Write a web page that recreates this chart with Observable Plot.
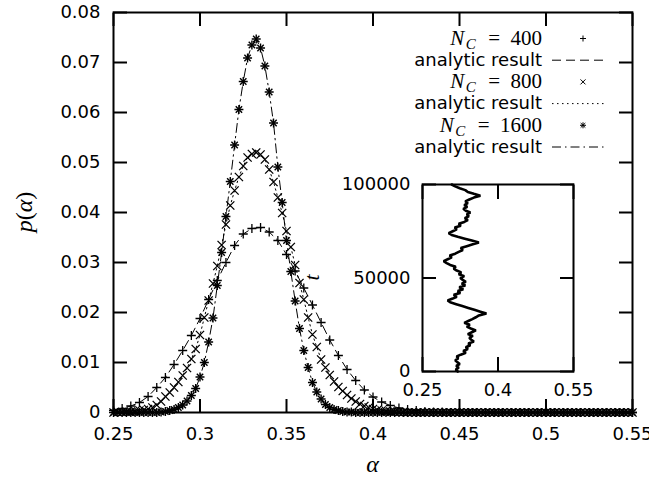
<!DOCTYPE html>
<html><head><meta charset="utf-8">
<script src="https://cdn.jsdelivr.net/npm/d3@7"></script>
<script src="https://cdn.jsdelivr.net/npm/@observablehq/plot@0.6"></script>
<style>
body{margin:0;background:#fff;}
#wrap{position:relative;width:649px;height:481px;overflow:hidden;}
#wrap svg{position:absolute;overflow:visible;max-width:none;}
</style></head><body><div id="wrap"></div>
<script>
// ---------- data ----------
const alphaTicks = [0.25, 0.3, 0.35, 0.4, 0.45, 0.5, 0.55];
const pTicks = [0, 0.01, 0.02, 0.03, 0.04, 0.05, 0.06, 0.07, 0.08];

// N_C = 400 : alpha grid start/step
const start400 = 0.25, step400 = 0.005;
const p400 = [0.0004,0.0008,0.0013,0.0020,0.0032,0.0050,0.0070,0.0096,0.0124,0.0154,
  0.0188,0.0226,0.0264,0.0300,0.0334,0.0357,0.0368,0.0370,0.0361,0.0344,
  0.0316,0.0283,0.0249,0.0215,0.0180,0.0145,0.0114,0.0086,0.0064,0.0045,
  0.0031,0.0021,0.0014,0.0009,0.0006,0.0004,0.0002,0.0001,0.0001,0,
  0,0,0,0,0,0,0,0,0,0,
  0,0,0,0,0,0,0,0,0,0,0];

// N_C = 800
const start800 = 0.25, step800 = 0.0025;
const p800 = [0.0000,0.0001,0.0001,0.0002,0.0002,0.0003,0.0004,0.0005,0.0007,0.0010,
  0.0015,0.0022,0.0032,0.0040,0.0050,0.0061,0.0074,0.0089,0.0107,0.0127,
  0.0155,0.0190,0.0224,0.0258,0.0293,0.0335,0.0376,0.0414,0.0444,0.0471,
  0.0493,0.0510,0.0517,0.0520,0.0516,0.0506,0.0486,0.0461,0.0430,0.0399,
  0.0363,0.0331,0.0295,0.0259,0.0226,0.0190,0.0156,0.0131,0.0106,0.0090,
  0.0075,0.0062,0.0051,0.0043,0.0035,0.0028,0.0022,0.0017,0.0013,0.0010,
  0.0007,0.0005,0.0004,0.0003,0.0002,0.0002,0.0001,0.0001,0,0,
  0,0,0,0,0,0,0,0,0,0,
  0,0,0,0,0,0,0,0,0,0,
  0,0,0,0,0,0,0,0,0,0,
  0,0,0,0,0,0,0,0,0,0,
  0,0,0,0,0,0,0,0,0,0,0];

// N_C = 1600
const start1600 = 0.25, step1600 = 0.0025;
const p1600 = [0,0,0,0,0,0,0,0,0,0,
  0,0.0001,0.0002,0.0004,0.0006,0.0010,0.0015,0.0023,0.0034,0.0048,
  0.0071,0.0100,0.0141,0.0189,0.0254,0.0320,0.0392,0.0462,0.0535,0.0606,
  0.0662,0.0709,0.0735,0.0747,0.0729,0.0693,0.0641,0.0579,0.0491,0.0420,
  0.0344,0.0282,0.0223,0.0168,0.0124,0.0090,0.0060,0.0041,0.0027,0.0016,
  0.0010,0.0006,0.0004,0.0002,0.0001,0.0001,0,0,0,0,
  0,0,0,0,0,0,0,0,0,0,
  0,0,0,0,0,0,0,0,0,0,
  0,0,0,0,0,0,0,0,0,0,
  0,0,0,0,0,0,0,0,0,0,
  0,0,0,0,0,0,0,0,0,0,
  0,0,0,0,0,0,0,0,0,0,0];

// inset: alpha(t), t sampled every tStep
const insetAlphaTicks = [0.25, 0.4, 0.55];
const insetTTicks = [0, 50000, 100000];
const tStep = 1000;
const alphaTrace = [0.320,0.316,0.322,0.317,0.324,0.319,0.315,0.321,0.318,0.326,
  0.336,0.331,0.340,0.336,0.345,0.341,0.352,0.347,0.343,0.350,
  0.340,0.348,0.356,0.346,0.338,0.344,0.333,0.341,0.349,0.356,
  0.362,0.377,0.365,0.353,0.341,0.329,0.317,0.305,0.300,0.310,
  0.318,0.312,0.325,0.320,0.331,0.323,0.335,0.328,0.336,0.330,
  0.325,0.333,0.322,0.327,0.318,0.312,0.316,0.305,0.298,0.292,
  0.300,0.308,0.304,0.315,0.322,0.330,0.326,0.338,0.350,0.362,
  0.348,0.334,0.320,0.308,0.302,0.310,0.318,0.314,0.326,0.322,
  0.333,0.340,0.334,0.342,0.338,0.345,0.336,0.331,0.339,0.333,
  0.340,0.335,0.343,0.352,0.365,0.352,0.340,0.335,0.324,0.315,
  0.308];

const legendNs = ["400", "800", "1600"];
const legendText = "analytic result";

// ---------- build ----------
const toRows = (ps, start, step) => ps.map((p, i) => ({a: +(start + i * step).toFixed(5), p}));
const r400 = toRows(p400, start400, step400);
const r800 = toRows(p800, start800, step800);
const r1600 = toRows(p1600, start1600, step1600);
const trace = alphaTrace.map((a, i) => ({a, t: i * tStep}));

const fmt = d => String(d);
const blank = () => "";

const main = Plot.plot({
  width: 649, height: 481,
  marginLeft: 113, marginRight: 17, marginTop: 12, marginBottom: 69,
  x: {domain: [0.25, 0.55]},
  y: {domain: [0, 0.08]},
  style: {fontFamily: "DejaVu Sans", fontSize: "18px", color: "#000", background: "white"},
  marks: [
    Plot.line(r400, {x: "a", y: "p", stroke: "#000", strokeWidth: 1, strokeDasharray: "9,5"}),
    Plot.line(r800, {x: "a", y: "p", stroke: "#000", strokeWidth: 1, strokeDasharray: "1.5,3.5"}),
    Plot.line(r1600, {x: "a", y: "p", stroke: "#000", strokeWidth: 1, strokeDasharray: "9,4,1.5,4"}),
    Plot.dot(r400, {x: "a", y: "p", symbol: "plus", r: 3.0, stroke: "#000", strokeWidth: 1.3}),
    Plot.dot(r800, {x: "a", y: "p", symbol: "times", r: 3.8, stroke: "#000", strokeWidth: 1.3}),
    Plot.dot(r1600, {x: "a", y: "p", symbol: "plus", r: 3.0, stroke: "#000", strokeWidth: 1.4}),
    Plot.dot(r1600, {x: "a", y: "p", symbol: "times", r: 3.0, stroke: "#000", strokeWidth: 1.4}),
    Plot.axisX({anchor: "bottom", ticks: alphaTicks, tickFormat: fmt, tickSize: -13, tickPadding: 28, strokeWidth: 2, label: null}),
    Plot.axisX({anchor: "top", ticks: alphaTicks, tickFormat: blank, tickSize: -13, strokeWidth: 2, label: null}),
    Plot.axisY({anchor: "left", ticks: pTicks, tickFormat: fmt, tickSize: -14, tickPadding: 27, strokeWidth: 2, label: null}),
    Plot.axisY({anchor: "right", ticks: pTicks, tickFormat: blank, tickSize: -14, strokeWidth: 2, label: null}),
    Plot.frame({stroke: "#000", strokeWidth: 2})
  ]
});
main.style.left = "0px"; main.style.top = "0px";
document.getElementById("wrap").appendChild(main);

const svg = d3.select(main);
const xs = main.scale("x"), ys = main.scale("y");
const xMid = (xs.range[0] + xs.range[1]) / 2;
const yMid = (ys.range[0] + ys.range[1]) / 2;

// axis labels
svg.append("text").attr("x", xMid).attr("y", 472).attr("text-anchor", "middle")
  .attr("font-family", "Liberation Serif").attr("font-size", 24).attr("font-style", "italic").text("α");
const yl = svg.append("text").attr("transform", `translate(32,${yMid}) rotate(-90)`).attr("text-anchor", "middle")
  .attr("font-family", "Liberation Serif").attr("font-size", 24);
yl.append("tspan").attr("font-style", "italic").text("p");
yl.append("tspan").text("(");
yl.append("tspan").attr("font-style", "italic").text("α");
yl.append("tspan").text(")");

// legend
const lg = svg.append("g");
const dashes = ["9,5", "1.5,3.5", "9,4,1.5,4"];
const symPaths = {
  plus: "M-3,0h6M0,-3v6",
  times: "M-2.5,-2.5L2.5,2.5M-2.5,2.5L2.5,-2.5",
  star: "M-3,0h6M0,-3v6M-2.3,-2.3L2.3,2.3M-2.3,2.3L2.3,-2.3"
};
const syms = ["plus", "times", "star"];
legendNs.forEach((n, i) => {
  const c1 = 38.5 + 21.7 * (2 * i), c2 = 38.5 + 21.7 * (2 * i + 1);
  const t = lg.append("text").attr("x", 542).attr("y", c1 + 6.5).attr("text-anchor", "end")
    .attr("font-family", "Liberation Serif").attr("font-size", 21);
  t.append("tspan").attr("font-style", "italic").text("N");
  t.append("tspan").attr("font-style", "italic").attr("font-size", 15).attr("dy", 4).attr("dx", 1.5).text("C");
  t.append("tspan").attr("dy", -4).attr("dx", 2).text("\u2002=\u2002" + n);
  lg.append("path").attr("d", symPaths[syms[i]]).attr("transform", `translate(583,${c1})`)
    .attr("stroke", "#000").attr("stroke-width", 1).attr("fill", "none");
  lg.append("text").attr("x", 542).attr("y", c2 + 5.5).attr("text-anchor", "end")
    .attr("font-family", "DejaVu Sans").attr("font-size", 18).text(legendText);
  lg.append("line").attr("x1", 552).attr("x2", 607).attr("y1", c2).attr("y2", c2)
    .attr("stroke", "#000").attr("stroke-width", 1).attr("stroke-dasharray", dashes[i]);
});

// ---------- inset ----------
const inset = Plot.plot({
  width: 298, height: 226,
  marginLeft: 132, marginRight: 15, marginTop: 9, marginBottom: 30,
  x: {domain: [0.25, 0.55]},
  y: {domain: [0, 100000]},
  style: {fontFamily: "DejaVu Sans", fontSize: "18px", color: "#000", background: "none"},
  marks: [
    Plot.line(trace, {x: "a", y: "t", stroke: "#000", strokeWidth: 2.6, strokeLinejoin: "miter"}),
    Plot.axisX({anchor: "bottom", ticks: insetAlphaTicks, tickFormat: fmt, tickSize: -14, tickPadding: 26, strokeWidth: 2, label: null}),
    Plot.axisX({anchor: "top", ticks: insetAlphaTicks, tickFormat: blank, tickSize: -14, strokeWidth: 2, label: null}),
    Plot.axisY({anchor: "left", ticks: insetTTicks, tickFormat: fmt, tickSize: -14, tickPadding: 26, strokeWidth: 2, label: null}),
    Plot.axisY({anchor: "right", ticks: insetTTicks, tickFormat: blank, tickSize: -14, strokeWidth: 2, label: null}),
    Plot.frame({stroke: "#000", strokeWidth: 2})
  ]
});
inset.style.left = "290px"; inset.style.top = "175px";
document.getElementById("wrap").appendChild(inset);
const iys = inset.scale("y");
d3.select(inset).append("text")
  .attr("transform", `translate(29,${(iys.range[0] + iys.range[1]) / 2}) rotate(-90)`)
  .attr("text-anchor", "middle").attr("font-family", "Liberation Serif").attr("font-size", 22)
  .attr("font-style", "italic").text("t");
</script></body></html>
